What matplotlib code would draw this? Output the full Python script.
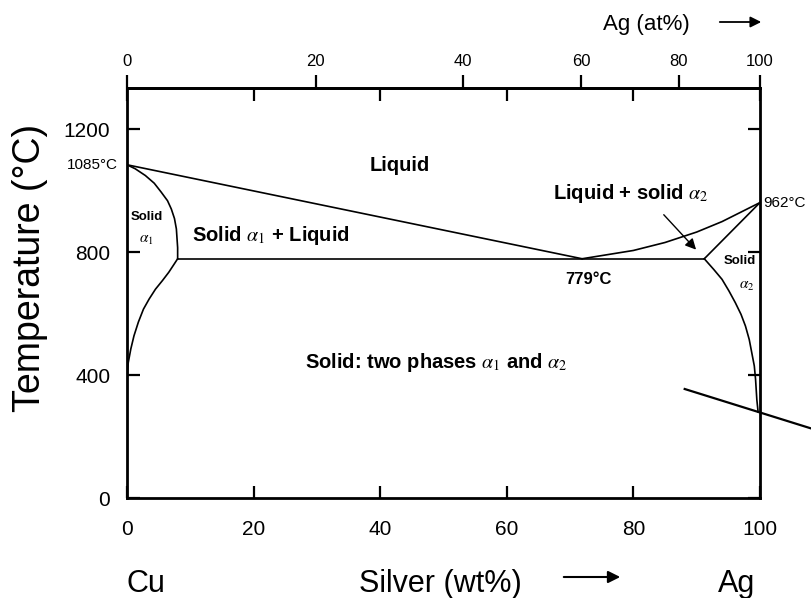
import numpy as np
import matplotlib
matplotlib.use("Agg")
import matplotlib.pyplot as plt
import matplotlib.transforms as mtransforms

plt.rcParams['font.family'] = ['Liberation Sans', 'DejaVu Sans']
plt.rcParams['mathtext.fontset'] = 'stix'

# phase boundaries (wt% Ag, temperature in C)
cu_liquidus_wt = [0, 71.9]
cu_liquidus_t = [1085, 779]
ag_liquidus_wt = [71.9, 80, 85, 90, 94, 100]
ag_liquidus_t = [779, 806, 832, 866, 900, 962]
cu_solidus_wt = [0, 1.3, 2.9, 4.3, 5.4, 6.4, 7.0, 7.5, 7.8, 8.0, 8.0]
cu_solidus_t = [1085, 1072, 1050, 1025, 996, 968, 941, 910, 876, 815, 779]
cu_solvus_wt = [8.0, 7.4, 6.6, 5.6, 4.5, 3.5, 2.6, 1.8, 1.1, 0.6, 0.2, 0]
cu_solvus_t = [779, 760, 735, 708, 680, 648, 615, 573, 528, 485, 441, 390]
ag_solidus_wt = [91.2, 100]
ag_solidus_t = [779, 962]
ag_solvus_wt = [91.2, 92.7, 94.0, 95.1, 96.1, 97.0, 97.7, 98.3, 98.7, 99.1, 99.3, 99.5, 99.7]
ag_solvus_t = [779, 744, 712, 674, 636, 598, 560, 516, 473, 430, 386, 320, 280]
eutectic_wt = [8.0, 91.2]
eutectic_t = [779, 779]

wt_ticks = [0, 20, 40, 60, 80, 100]
at_ticks = [0, 20, 40, 60, 80, 100]
t_ticks = [0, 400, 800, 1200]

M_AG = 107.87
M_CU = 63.55


def at_to_wt(a):
    a = np.asarray(a, dtype=float)
    return 100 * a * M_AG / (a * M_AG + (100 - a) * M_CU)


def wt_to_at(w):
    w = np.asarray(w, dtype=float)
    return 100 * (w / M_AG) / (w / M_AG + (100 - w) / M_CU)


fig = plt.figure(figsize=(8.11, 5.98), dpi=100)
ax = fig.add_axes([127 / 811, 1 - 498 / 598, 633 / 811, 410 / 598])

lw = 1.2
ax.plot(cu_liquidus_wt, cu_liquidus_t, color='black', lw=lw)
ax.plot(ag_liquidus_wt, ag_liquidus_t, color='black', lw=lw)
ax.plot(cu_solidus_wt, cu_solidus_t, color='black', lw=lw)
ax.plot(cu_solvus_wt, cu_solvus_t, color='black', lw=lw)
ax.plot(ag_solidus_wt, ag_solidus_t, color='black', lw=lw)
ax.plot(ag_solvus_wt, ag_solvus_t, color='black', lw=lw)
ax.plot(eutectic_wt, eutectic_t, color='black', lw=lw)

ax.set_xlim(0, 100)
ax.set_ylim(0, 1335)

for s in ax.spines.values():
    s.set_linewidth(2.0)

ax.set_xticks(wt_ticks)
ax.set_yticks(t_ticks)
ax.tick_params(axis='x', direction='in', length=9, width=1.6, labelsize=15, pad=16, top=True)
ax.tick_params(axis='y', direction='in', length=9, width=1.6, labelsize=15, pad=12, right=True)

# top axis in atomic percent
sec = ax.secondary_xaxis('top', functions=(wt_to_at, at_to_wt))
sec.set_xticks(at_ticks)
sec.tick_params(direction='out', length=9.5, width=1.6, labelsize=12, pad=4)
sec.spines['top'].set_linewidth(2.0)

# labels on the diagram
bold = dict(fontsize=14.5, fontweight='bold', ha='center', va='center')
ax.text(43.1, 1084, 'Liquid', **bold)
ax.text(22.7, 855, r'Solid $\alpha_1$ + Liquid', **bold)
ax.text(79.6, 990, r'Liquid + solid $\alpha_2$', **bold)
ax.text(72.9, 712, '779°C', fontsize=12, fontweight='bold', ha='center', va='center')
ax.text(48.9, 440, r'Solid: two phases $\alpha_1$ and $\alpha_2$', **bold)
ax.text(3.1, 914, 'Solid', fontsize=9.5, fontweight='bold', ha='center', va='center')
ax.text(3.1, 839, r'$\alpha_1$', fontsize=11, ha='center', va='center')
ax.text(96.8, 771, 'Solid', fontsize=9.5, fontweight='bold', ha='center', va='center')
ax.text(97.9, 689, r'$\alpha_2$', fontsize=11, ha='center', va='center')

ax.annotate('', xy=(90.2, 802), xytext=(84.5, 929),
            arrowprops=dict(arrowstyle='-|>', color='black', lw=1.0, mutation_scale=16))

trans = mtransforms.blended_transform_factory(ax.transAxes, ax.transData)
ax.text(-0.014, 1085, '1085°C', transform=trans, fontsize=11, ha='right', va='center')
ax.text(1.005, 962, '962°C', transform=trans, fontsize=11, ha='left', va='center')

# axis titles
fig.text(30 / 811, 1 - 268 / 598, 'Temperature (°C)', rotation=90, fontsize=27,
         ha='center', va='center')
fig.text(146 / 811, 1 - 592 / 598, 'Cu', fontsize=22, ha='center', va='baseline')
fig.text(440 / 811, 1 - 592 / 598, 'Silver (wt%)', fontsize=22, ha='center', va='baseline')
fig.text(737 / 811, 1 - 592 / 598, 'Ag', fontsize=22, ha='center', va='baseline')
fig.text(646 / 811, 1 - 30 / 598, 'Ag (at%)', fontsize=16, ha='center', va='baseline')

fig.patches.append(matplotlib.patches.FancyArrowPatch(
    (561 / 811, 1 - 577 / 598), (623 / 811, 1 - 577 / 598), transform=fig.transFigure,
    arrowstyle='-|>', mutation_scale=18, color='black', lw=1.5))
fig.patches.append(matplotlib.patches.FancyArrowPatch(
    (717 / 811, 1 - 22 / 598), (764 / 811, 1 - 22 / 598), transform=fig.transFigure,
    arrowstyle='-|>', mutation_scale=16, color='black', lw=1.3))

# stray pointer line that crosses the right edge
fig.add_artist(plt.Line2D([684.7 / 811, 1.0], [1 - 389 / 598, 1 - 428.4 / 598],
                          transform=fig.transFigure, color='black', lw=1.6))

fig.savefig('out.png', dpi=100)
